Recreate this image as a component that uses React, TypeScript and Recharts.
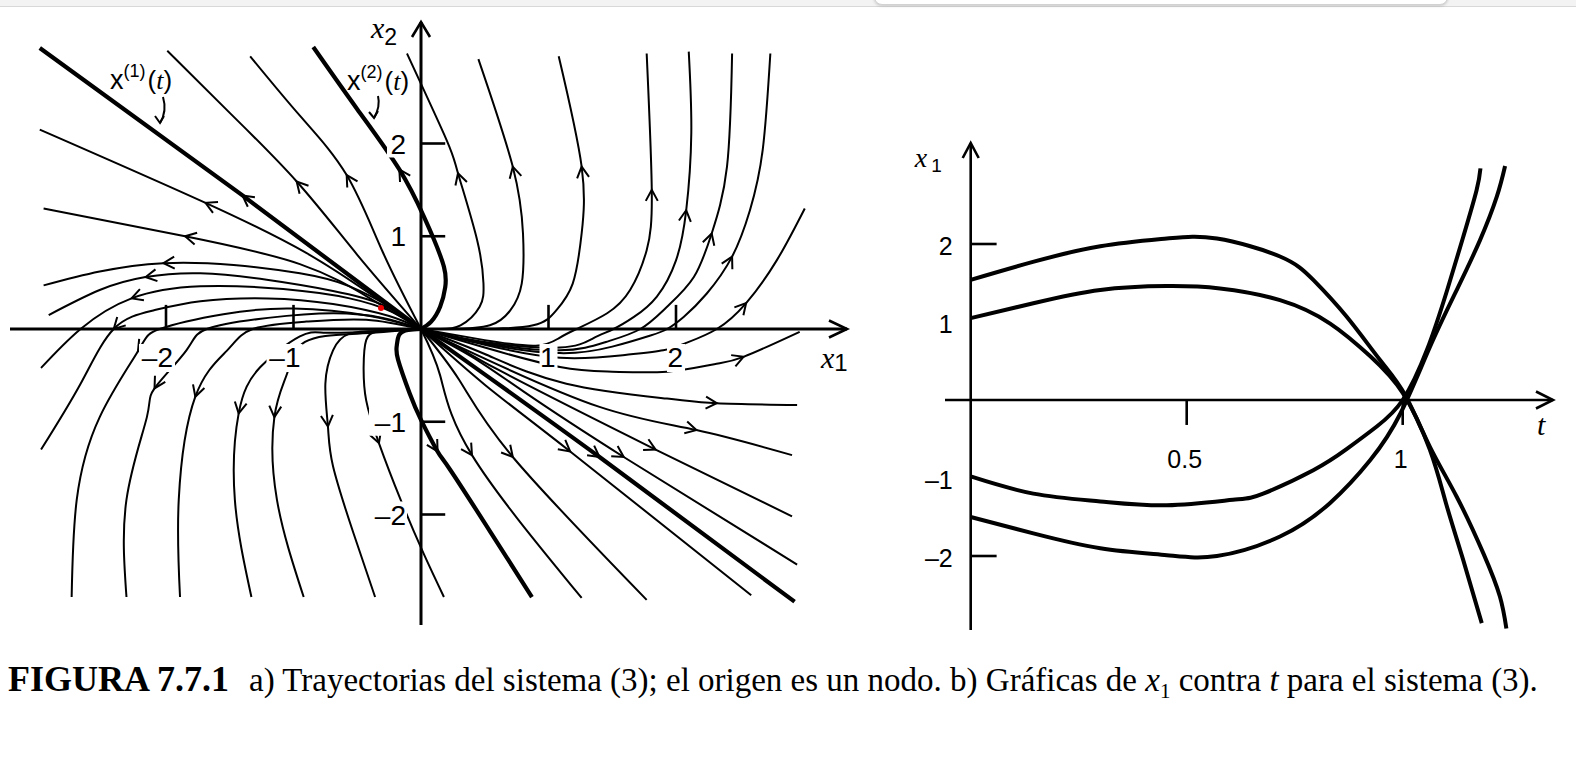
import React from "react";
import { ComposedChart, Line, XAxis, YAxis, ReferenceLine, ReferenceDot } from "recharts";

type P = [number, number];

// a) trajectories in the (x1, x2) plane, each listed from the origin outwards
const xOneUpper: P[] = [[0, 0], [-1.4, 1.44], [-2.99, 3.03]];
const xOneLower: P[] = [[0, 0], [1.4, -1.38], [2.93, -2.94]];
const xTwoUpper: P[] = [[0, 0], [0.08, 0.08], [0.15, 0.24], [0.19, 0.45], [0.18, 0.67], [0.1, 0.97], [0.02, 1.22], [-0.17, 1.72], [-0.5, 2.37], [-0.845, 3.04]];
const xTwoLower: P[] = [[0, 0], [-0.1, -0.01], [-0.17, -0.06], [-0.19, -0.18], [-0.18, -0.33], [-0.09, -0.69], [0, -0.98], [0.13, -1.32], [0.23, -1.52], [0.55, -2.2], [0.87, -2.89]];

const steepUpper: P[] = [[0, 0], [-0.3, 0.83], [-0.583, 1.66], [-0.95, 2.3], [-1.34, 2.94]];
const midUpper: P[] = [[0, 0], [-0.5, 0.8], [-0.975, 1.59], [-1.5, 2.33], [-1.99, 3.0]];
const flatUpperA: P[] = [[0, 0], [-0.4, 0.38], [-0.9, 0.82], [-1.69, 1.36], [-2.99, 2.15]];
const flatUpperB: P[] = [[0, 0], [-0.4, 0.33], [-0.95, 0.7], [-1.85, 1.0], [-2.96, 1.3]];

const arc1: P[] = [[0, 0], [-0.2, 0.2], [-0.56, 0.46], [-0.95, 0.6], [-1.47, 0.69], [-2.02, 0.71], [-2.52, 0.62], [-2.96, 0.47]];
const arc2: P[] = [[0, 0], [-0.3, 0.26], [-0.69, 0.41], [-1.21, 0.53], [-1.73, 0.6], [-2.16, 0.56], [-2.52, 0.42], [-2.92, 0.15]];
const arc3: P[] = [[0, 0], [-0.22, 0.18], [-0.56, 0.33], [-1.08, 0.43], [-1.73, 0.46], [-2.27, 0.33], [-2.67, 0], [-2.98, -0.42]];
const arc4: P[] = [[0, 0], [-0.25, 0.14], [-0.69, 0.27], [-1.2, 0.33], [-1.73, 0.3], [-2.1, 0.2], [-2.41, 0], [-2.67, -0.59], [-2.98, -1.3]];
const arc5: P[] = [[0, 0], [-0.4, 0.14], [-1.0, 0.22], [-1.55, 0.16], [-2.05, 0], [-2.22, -0.24], [-2.52, -0.95], [-2.7, -1.84], [-2.74, -2.89]];
const arc6: P[] = [[0, 0], [-0.3, 0.12], [-0.69, 0.17], [-1.2, 0.12], [-1.68, 0], [-1.84, -0.23], [-2.09, -0.64], [-2.15, -0.95], [-2.31, -1.84], [-2.31, -2.89]];
const arc7: P[] = [[0, 0], [-0.43, 0.1], [-0.9, 0.08], [-1.32, 0], [-1.52, -0.23], [-1.77, -0.73], [-1.9, -1.84], [-1.89, -2.89]];

const down1: P[] = [[0, 0], [-0.4, -0.03], [-0.75, -0.04], [-0.95, -0.08], [-1.26, -0.41], [-1.43, -0.91], [-1.46, -1.84], [-1.33, -2.89]];
const down2: P[] = [[0, 0], [-0.5, -0.05], [-0.91, -0.14], [-1.05, -0.48], [-1.15, -0.95], [-1.13, -1.84], [-0.92, -2.89]];
const down3: P[] = [[0, 0], [-0.3, -0.02], [-0.56, -0.05], [-0.69, -0.23], [-0.75, -0.59], [-0.73, -1.05], [-0.69, -1.48], [-0.53, -2.2], [-0.36, -2.89]];
const down4: P[] = [[0, 0], [-0.2, -0.01], [-0.35, -0.03], [-0.43, -0.12], [-0.45, -0.41], [-0.43, -0.77], [-0.33, -1.23], [-0.16, -1.84], [0.02, -2.42], [0.18, -2.89]];

const up1: P[] = [[0, 0], [0.15, 0], [0.31, 0.04], [0.46, 0.24], [0.49, 0.49], [0.44, 0.96], [0.29, 1.68], [0.2, 2.04], [-0.11, 2.97]];
const up2: P[] = [[0, 0], [0.25, 0], [0.54, 0.04], [0.7, 0.2], [0.79, 0.49], [0.8, 1.03], [0.72, 1.75], [0.45, 2.91]];
const up3: P[] = [[0, 0], [0.45, 0], [0.88, 0.04], [1.06, 0.2], [1.19, 0.49], [1.26, 1.03], [1.26, 1.75], [1.08, 2.94]];
const up4: P[] = [[0, 0], [0.5, -0.12], [0.9, -0.18], [1.08, -0.1], [1.22, 0], [1.46, 0.17], [1.64, 0.42], [1.77, 0.85], [1.81, 1.5], [1.77, 2.97]];
const up5: P[] = [[0, 0], [0.5, -0.14], [1.09, -0.2], [1.35, -0.1], [1.51, 0], [1.67, 0.13], [1.85, 0.35], [2.0, 0.74], [2.08, 1.28], [2.12, 2.11], [2.1, 2.99]];
const up6: P[] = [[0, 0], [0.5, -0.15], [1.09, -0.23], [1.45, -0.14], [1.72, 0], [1.93, 0.24], [2.14, 0.56], [2.28, 1.03], [2.4, 1.75], [2.44, 2.97]];
const up7: P[] = [[0, 0], [0.5, -0.16], [1.09, -0.26], [1.5, -0.19], [1.8, -0.07], [1.93, 0], [2.06, 0.13], [2.24, 0.38], [2.44, 0.78], [2.58, 1.28], [2.68, 1.93], [2.74, 2.97]];
const up8: P[] = [[0, 0], [0.5, -0.17], [1.09, -0.31], [1.6, -0.28], [1.9, -0.23], [2.08, -0.15], [2.32, 0], [2.55, 0.28], [2.79, 0.74], [3.01, 1.3]];
const edge9: P[] = [[0, 0], [0.5, -0.2], [1.09, -0.41], [1.5, -0.46], [1.93, -0.46], [2.3, -0.38], [2.53, -0.3], [2.97, -0.03]];

const right1: P[] = [[0, 0], [0.5, -0.27], [1.14, -0.59], [1.93, -0.75], [2.32, -0.8], [2.95, -0.82]];
const right2: P[] = [[0, 0], [0.5, -0.32], [1.4, -0.84], [2.16, -1.09], [2.91, -1.36]];
const right3: P[] = [[0, 0], [0.3, -0.2], [0.62, -0.45], [1.84, -1.3], [2.91, -2.02]];
const right4: P[] = [[0, 0], [0.4, -0.3], [0.8, -0.67], [1.59, -1.38], [2.95, -2.54]];
const right5: P[] = [[0, 0], [0.5, -0.6], [1.17, -1.32], [2.59, -2.87]];
const right6: P[] = [[0, 0], [0.3, -0.55], [0.72, -1.38], [1.77, -2.92]];
const right7: P[] = [[0, 0], [0.15, -0.5], [0.4, -1.36], [1.26, -2.9]];

const planeXTicks = [-2, -1, 1, 2];
const planeYTicks = [-2, -1, 1, 2];

// b) x1 against t, pairs [t, x1]
const solTop: P[] = [[0, 1.54], [0.144, 1.77], [0.3, 1.97], [0.454, 2.07], [0.57, 2.07], [0.716, 1.84], [0.793, 1.54], [0.87, 1.07], [0.948, 0.51], [1.005, 0.07], [1.063, -0.6], [1.125, -1.24], [1.187, -1.97], [1.225, -2.52], [1.24, -2.93]];
const solSecond: P[] = [[0, 1.05], [0.145, 1.24], [0.3, 1.41], [0.454, 1.46], [0.577, 1.43], [0.716, 1.28], [0.832, 0.98], [0.925, 0.56], [1.0, 0.09], [1.063, -0.64], [1.1, -1.32], [1.14, -2.05], [1.183, -2.86]];
const solThird: P[] = [[0, -0.98], [0.145, -1.2], [0.3, -1.3], [0.454, -1.35], [0.607, -1.28], [0.677, -1.2], [0.793, -0.9], [0.87, -0.63], [0.94, -0.34], [1.0, 0.0], [1.056, 0.64], [1.103, 1.41], [1.14, 2.09], [1.171, 2.69], [1.18, 2.97]];
const solBottom: P[] = [[0, -1.5], [0.145, -1.71], [0.3, -1.9], [0.454, -1.99], [0.57, -2.0], [0.716, -1.75], [0.832, -1.32], [0.925, -0.77], [0.995, -0.17], [1.063, 0.68], [1.125, 1.41], [1.179, 2.05], [1.218, 2.61], [1.237, 3.0]];

const timeTicks = [0.5, 1];
const timeTickLabels = ["0.5", "1"];
const x1Ticks = [-2, 2];
const x1Labels = [2, 1, -1, -2];

const CAPTION_HEAD = "FIGURA 7.7.1";

// ---- layout (page pixels)
const L = { left: 0, top: 10, width: 860, height: 630, ox: 421, oy: 329, ux: 127.5, uy: 92.75 };
const R = { left: 900, top: 120, width: 670, height: 520, ox: 970.7, oy: 400, ux: 432, uy: 78 };

const dom = (b: typeof L) => ({
  x: [(b.left - b.ox) / b.ux, (b.left + b.width - b.ox) / b.ux] as [number, number],
  y: [(b.oy - b.top - b.height) / b.uy, (b.oy - b.top) / b.uy] as [number, number],
});

const toXY = (pts: P[]) => pts.map(([x, y]) => ({ x, y }));
const SANS = "'Liberation Sans', Arial, Helvetica, sans-serif";
const SERIF = "'Liberation Serif', 'Times New Roman', serif";
const minus = (v: number) => (v < 0 ? "\u2013" + Math.abs(v) : String(v));

const chevron = (len: number, half: number, sw: number) => (ang: number) => (p: any) => (
  <path
    d={`M ${-len} ${-half} L 0 0 L ${-len} ${half}`}
    transform={`translate(${p.cx},${p.cy}) rotate(${ang})`}
    fill="none"
    stroke="#000"
    strokeWidth={sw}
    strokeLinejoin="miter"
  />
);

function arrowDot(pts: P[], idx: number, ux: number, uy: number) {
  return (props: any) => {
    const { cx, cy, index } = props;
    if (index !== idx || cx == null) return <g key={`e${index}`} />;
    const a = pts[Math.max(idx - 1, 0)];
    const b = pts[Math.min(idx + 1, pts.length - 1)];
    const ang = (Math.atan2(-(b[1] - a[1]) * uy, (b[0] - a[0]) * ux) * 180) / Math.PI;
    return (
      <path
        key={`a${index}`}
        d="M -11 -6 L 0 0 L -11 6"
        transform={`translate(${cx},${cy}) rotate(${ang})`}
        fill="none"
        stroke="#000"
        strokeWidth={2}
      />
    );
  };
}

const planeCurves = [
  { id: "x1u", pts: xOneUpper, arrow: 1, thick: true },
  { id: "x1d", pts: xOneLower, arrow: 1, thick: true },
  { id: "x2u", pts: xTwoUpper, arrow: 7, thick: true },
  { id: "x2d", pts: xTwoLower, arrow: 7, thick: true },
  { id: "su", pts: steepUpper, arrow: 2 },
  { id: "mu", pts: midUpper, arrow: 2 },
  { id: "fa", pts: flatUpperA, arrow: 3 },
  { id: "fb", pts: flatUpperB, arrow: 3 },
  { id: "a1", pts: arc1, arrow: 5 },
  { id: "a2", pts: arc2, arrow: 5 },
  { id: "a3", pts: arc3, arrow: 5 },
  { id: "a4", pts: arc4, arrow: 6 },
  { id: "a5", pts: arc5, arrow: 5 },
  { id: "a6", pts: arc6, arrow: 6 },
  { id: "a7", pts: arc7, arrow: 5 },
  { id: "d1", pts: down1, arrow: 5 },
  { id: "d2", pts: down2, arrow: 4 },
  { id: "d3", pts: down3, arrow: 5 },
  { id: "d4", pts: down4, arrow: 6 },
  { id: "u1", pts: up1, arrow: 6 },
  { id: "u2", pts: up2, arrow: 6 },
  { id: "u3", pts: up3, arrow: 6 },
  { id: "u4", pts: up4, arrow: 8 },
  { id: "u5", pts: up5, arrow: 8 },
  { id: "u6", pts: up6, arrow: 7 },
  { id: "u7", pts: up7, arrow: 8 },
  { id: "u8", pts: up8, arrow: 7 },
  { id: "e9", pts: edge9, arrow: 6 },
  { id: "r1", pts: right1, arrow: 4 },
  { id: "r2", pts: right2, arrow: 3 },
  { id: "r3", pts: right3, arrow: 3 },
  { id: "r4", pts: right4, arrow: 3 },
  { id: "r5", pts: right5, arrow: 2 },
  { id: "r6", pts: right6, arrow: 2 },
  { id: "r7", pts: right7, arrow: 2 },
];

const solutions = [solTop, solSecond, solThird, solBottom];

const label = (draw: (cx: number, cy: number) => React.ReactNode) => (p: any) => <g>{draw(p.cx, p.cy)}</g>;

function PhasePlane() {
  const d = dom(L);
  const xEnd = (L.left + L.width - 13 - L.ox) / L.ux;
  const xStart = (10 - L.ox) / L.ux;
  const yTop = (L.oy - 22) / L.uy;
  const yBot = (L.oy - 625) / L.uy;
  return (
    <div style={{ position: "absolute", left: L.left, top: L.top }}>
      <ComposedChart width={L.width} height={L.height} margin={{ top: 0, right: 0, bottom: 0, left: 0 }}>
        <XAxis type="number" dataKey="x" domain={d.x} allowDataOverflow hide />
        <YAxis type="number" dataKey="y" domain={d.y} allowDataOverflow hide />
        <ReferenceLine segment={[{ x: xStart, y: 0 }, { x: xEnd, y: 0 }]} stroke="#000" strokeWidth={3} />
        <ReferenceLine segment={[{ x: 0, y: yBot }, { x: 0, y: yTop }]} stroke="#000" strokeWidth={3} />
        {planeXTicks.map((v) => (
          <ReferenceLine key={`xt${v}`} segment={[{ x: v, y: 0 }, { x: v, y: 0.26 }]} stroke="#000" strokeWidth={2.6} />
        ))}
        {planeYTicks.map((v) => (
          <ReferenceLine key={`yt${v}`} segment={[{ x: 0, y: v }, { x: 0.19, y: v }]} stroke="#000" strokeWidth={2.6} />
        ))}
        {planeCurves.map((c) => (
          <Line
            key={c.id}
            data={toXY(c.pts)}
            dataKey="y"
            type="natural"
            stroke="#000"
            strokeWidth={c.thick ? 4.2 : 2}
            dot={arrowDot(c.pts, c.arrow, L.ux, L.uy)}
            activeDot={false}
            isAnimationActive={false}
          />
        ))}
        <ReferenceDot x={xEnd} y={0} r={1} shape={chevron(18, 8.5, 2.6)(0)} />
        <ReferenceDot x={0} y={yTop} r={1} shape={chevron(15, 9, 2.6)(-90)} />
        {planeXTicks.map((v) => (
          <ReferenceDot
            key={`xl${v}`}
            x={v}
            y={0}
            r={1}
            shape={label((cx, cy) => (
              <>
                <rect x={cx + 9 - (v < 0 ? 36 : 18)} y={cy + 15} width={v < 0 ? 36 : 18} height={28} fill="#fff" />
                <text x={cx + 7} y={cy + 38} textAnchor="end" fontFamily={SANS} fontSize={28}>{minus(v)}</text>
              </>
            ))}
          />
        ))}
        {planeYTicks.map((v) => (
          <ReferenceDot
            key={`yl${v}`}
            x={0}
            y={v}
            r={1}
            shape={label((cx, cy) => (
              <>
                <rect x={cx - 14 - (v < 0 ? 38 : 20)} y={cy - 13} width={v < 0 ? 38 : 20} height={27} fill="#fff" />
                <text x={cx - 15} y={cy + 10} textAnchor="end" fontFamily={SANS} fontSize={28}>{minus(v)}</text>
              </>
            ))}
          />
        ))}
        <ReferenceDot
          x={0}
          y={yTop}
          r={1}
          shape={label((cx, cy) => (
            <text x={cx - 50} y={cy + 16}>
              <tspan fontFamily={SERIF} fontStyle="italic" fontSize={30}>x</tspan>
              <tspan fontFamily={SANS} fontSize={23} dy={7}>2</tspan>
            </text>
          ))}
        />
        <ReferenceDot
          x={xEnd}
          y={0}
          r={1}
          shape={label((cx, cy) => (
            <text x={cx - 26} y={cy + 39}>
              <tspan fontFamily={SERIF} fontStyle="italic" fontSize={30}>x</tspan>
              <tspan fontFamily={SANS} fontSize={24} dy={3}>1</tspan>
            </text>
          ))}
        />
        <ReferenceDot
          x={(110 - L.ox) / L.ux}
          y={(L.oy - 89) / L.uy}
          r={1}
          shape={label((cx, cy) => (
            <>
              <text x={cx} y={cy} fontFamily={SANS}>
                <tspan fontSize={27}>x</tspan>
                <tspan fontSize={18} dy={-12}>(1)</tspan>
                <tspan fontSize={26} dy={12} dx={2}>(</tspan>
                <tspan fontSize={26} fontFamily={SERIF} fontStyle="italic">t</tspan>
                <tspan fontSize={26}>)</tspan>
              </text>
              <path d={`M ${cx + 53} ${cy + 8} C ${cx + 56} ${cy + 18}, ${cx + 55} ${cy + 26}, ${cx + 50} ${cy + 34}`} fill="none" stroke="#000" strokeWidth={2} />
              <path d={`M ${cx + 45} ${cy + 27} L ${cx + 50} ${cy + 34} L ${cx + 54} ${cy + 27}`} fill="none" stroke="#000" strokeWidth={2} />
            </>
          ))}
        />
        <ReferenceDot
          x={(347 - L.ox) / L.ux}
          y={(L.oy - 90) / L.uy}
          r={1}
          shape={label((cx, cy) => (
            <>
              <text x={cx} y={cy} fontFamily={SANS}>
                <tspan fontSize={27}>x</tspan>
                <tspan fontSize={18} dy={-12}>(2)</tspan>
                <tspan fontSize={26} dy={12} dx={2}>(</tspan>
                <tspan fontSize={26} fontFamily={SERIF} fontStyle="italic">t</tspan>
                <tspan fontSize={26}>)</tspan>
              </text>
              <path d={`M ${cx + 31} ${cy + 6} C ${cx + 33} ${cy + 14}, ${cx + 31} ${cy + 21}, ${cx + 27} ${cy + 28}`} fill="none" stroke="#000" strokeWidth={2} />
              <path d={`M ${cx + 22} ${cy + 22} L ${cx + 27} ${cy + 28} L ${cx + 31} ${cy + 21}`} fill="none" stroke="#000" strokeWidth={2} />
            </>
          ))}
        />
        <ReferenceDot x={(381 - L.ox) / L.ux} y={(L.oy - 308) / L.uy} r={3} fill="#e00" stroke="none" />
      </ComposedChart>
    </div>
  );
}

function TimePlot() {
  const d = dom(R);
  const tEnd = (1553 - R.ox) / R.ux;
  const tStart = (945 - R.ox) / R.ux;
  const yTop = (R.oy - 143) / R.uy;
  const yBot = (R.oy - 630) / R.uy;
  return (
    <div style={{ position: "absolute", left: R.left, top: R.top }}>
      <ComposedChart width={R.width} height={R.height} margin={{ top: 0, right: 0, bottom: 0, left: 0 }}>
        <XAxis type="number" dataKey="x" domain={d.x} allowDataOverflow hide />
        <YAxis type="number" dataKey="y" domain={d.y} allowDataOverflow hide />
        <ReferenceLine segment={[{ x: tStart, y: 0 }, { x: tEnd, y: 0 }]} stroke="#000" strokeWidth={2.6} />
        <ReferenceLine segment={[{ x: 0, y: yBot }, { x: 0, y: yTop }]} stroke="#000" strokeWidth={2.6} />
        {timeTicks.map((v) => (
          <ReferenceLine key={`tt${v}`} segment={[{ x: v, y: 0 }, { x: v, y: -0.32 }]} stroke="#000" strokeWidth={2.6} />
        ))}
        {x1Ticks.map((v) => (
          <ReferenceLine key={`xt${v}`} segment={[{ x: 0, y: v }, { x: 0.06, y: v }]} stroke="#000" strokeWidth={2.6} />
        ))}
        {solutions.map((s, i) => (
          <Line
            key={`s${i}`}
            data={toXY(s)}
            dataKey="y"
            type="natural"
            stroke="#000"
            strokeWidth={4}
            dot={false}
            activeDot={false}
            isAnimationActive={false}
          />
        ))}
        <ReferenceDot x={tEnd} y={0} r={1} shape={chevron(17, 8.5, 2.6)(0)} />
        <ReferenceDot x={0} y={yTop} r={1} shape={chevron(15, 8, 2.6)(-90)} />
        {timeTicks.map((v, i) => (
          <ReferenceDot
            key={`tl${v}`}
            x={v}
            y={0}
            r={1}
            shape={label((cx, cy) => (
              <text x={cx - 2} y={cy + 68} textAnchor="middle" fontFamily={SANS} fontSize={25}>{timeTickLabels[i]}</text>
            ))}
          />
        ))}
        {x1Labels.map((v) => (
          <ReferenceDot
            key={`yl${v}`}
            x={0}
            y={v}
            r={1}
            shape={label((cx, cy) => (
              <text x={cx - 18} y={cy + 11} textAnchor="end" fontFamily={SANS} fontSize={25}>{minus(v)}</text>
            ))}
          />
        ))}
        <ReferenceDot
          x={0}
          y={yTop}
          r={1}
          shape={label((cx, cy) => (
            <text x={cx - 56} y={cy + 24}>
              <tspan fontFamily={SERIF} fontStyle="italic" fontSize={28}>x</tspan>
              <tspan fontFamily={SANS} fontSize={19} dy={5} dx={4}>1</tspan>
            </text>
          ))}
        />
        <ReferenceDot
          x={tEnd}
          y={0}
          r={1}
          shape={label((cx, cy) => (
            <text x={cx - 16} y={cy + 35} fontFamily={SERIF} fontStyle="italic" fontSize={30}>t</text>
          ))}
        />
      </ComposedChart>
    </div>
  );
}

export default function App() {
  return (
    <div style={{ position: "absolute", left: 0, top: 0, width: 1576, height: 757, background: "#fff", overflow: "hidden" }}>
      <div style={{ position: "absolute", left: 0, top: 0, width: 1576, height: 6, background: "#f3f3f3", borderBottom: "1px solid #d8d8d8" }} />
      <div
        style={{
          position: "absolute",
          left: 874,
          top: -14,
          width: 572,
          height: 17,
          background: "#fff",
          border: "1px solid #d2d2d2",
          borderRadius: 8,
          boxShadow: "0 1px 3px rgba(0,0,0,0.18)",
        }}
      />
      <PhasePlane />
      <TimePlot />
      <div
        style={{
          position: "absolute",
          left: 8,
          top: 663,
          fontFamily: SERIF,
          fontSize: 33,
          lineHeight: "33px",
          whiteSpace: "nowrap",
          color: "#000",
        }}
      >
        <b style={{ fontSize: 36 }}>{CAPTION_HEAD}</b>
        <span style={{ marginLeft: 20 }}>a) Trayectorias del sistema (3); el origen es un nodo. b) Gráficas de </span>
        <i>x</i>
        <sub style={{ fontSize: 21, verticalAlign: -7 }}>1</sub>
        <span> contra </span>
        <i>t</i>
        <span> para el sistema (3).</span>
      </div>
    </div>
  );
}
